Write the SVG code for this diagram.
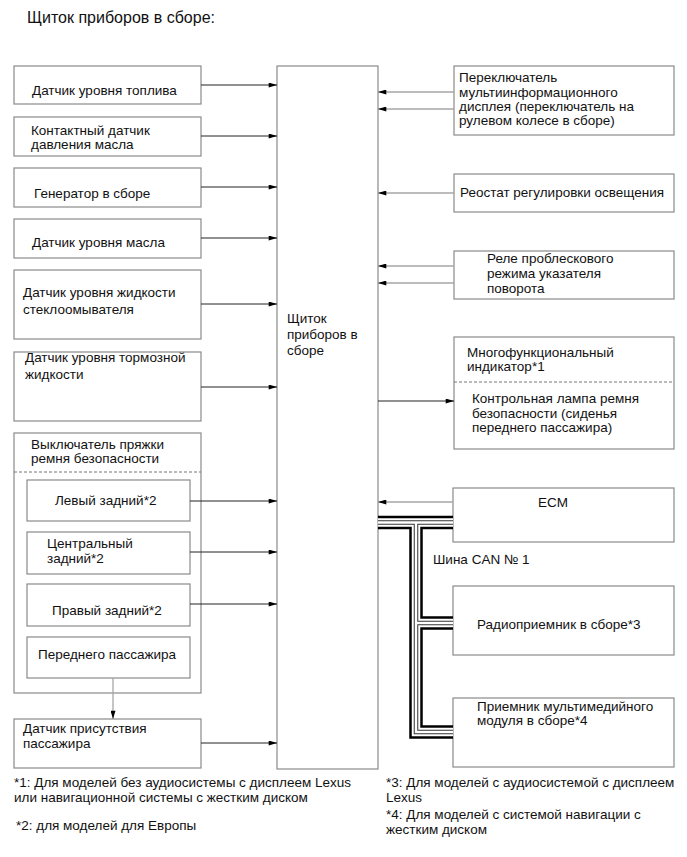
<svg xmlns="http://www.w3.org/2000/svg" width="687" height="857" viewBox="0 0 687 857">
<defs>
<style>
text{font-family:"Liberation Sans",Arial,sans-serif;font-size:13.5px;fill:#111}
.title{font-size:16px}
.box{fill:#fff;stroke:#8a8a8a;stroke-width:1.2}
.dash{stroke:#777;stroke-width:1;stroke-dasharray:3 2;fill:none}
.lin{stroke:#222;stroke-width:1;fill:none}
.rin{stroke:#a6a6a6;stroke-width:1.3;fill:none}
</style>
<marker id="ah" viewBox="0 0 10 6" refX="10" refY="3" markerWidth="10" markerHeight="5" markerUnits="userSpaceOnUse" orient="auto">
<path d="M0,0 L10,3 L0,6 z" fill="#000"/>
</marker>
</defs>
<rect width="687" height="857" fill="#fff"/>
<text class="title" x="27" y="23">Щиток приборов в сборе:</text>

<g id="main"><rect class="box" x="277" y="66" width="101" height="703"/>
<text x="287" y="323">Щиток</text><text x="287" y="339">приборов в</text><text x="287" y="355">сборе</text></g>

<g id="fuel"><rect class="box" x="14" y="66" width="187" height="38"/><text x="32" y="95">Датчик уровня топлива</text></g>
<g id="oilpress"><rect class="box" x="14" y="117" width="187" height="39"/><text x="31" y="135">Контактный датчик</text><text x="31" y="149">давления масла</text></g>
<g id="gen"><rect class="box" x="14" y="168" width="187" height="39"/><text x="34" y="198">Генератор в сборе</text></g>
<g id="oillevel"><rect class="box" x="14" y="219" width="187" height="39"/><text x="32" y="247">Датчик уровня масла</text></g>
<g id="washer"><rect class="box" x="14" y="270" width="187" height="69"/><text x="23" y="297">Датчик уровня жидкости</text><text x="23" y="314">стеклоомывателя</text></g>
<g id="brake"><rect class="box" x="14" y="352" width="187" height="69"/><text x="25" y="362">Датчик уровня тормозной</text><text x="25" y="379">жидкости</text></g>
<g id="buckle"><rect class="box" x="14" y="433" width="187" height="260"/><text x="31" y="449">Выключатель пряжки</text><text x="31" y="463">ремня безопасности</text>
<line class="dash" x1="14" y1="472" x2="201" y2="472"/></g>
<g id="lr"><rect class="box" x="27" y="480" width="163" height="41"/><text x="55" y="505">Левый задний*2</text></g>
<g id="cr"><rect class="box" x="27" y="532" width="163" height="42"/><text x="47" y="548">Центральный</text><text x="47" y="563">задний*2</text></g>
<g id="rr"><rect class="box" x="27" y="584" width="163" height="42"/><text x="52" y="615">Правый задний*2</text></g>
<g id="fp"><rect class="box" x="27" y="637" width="163" height="41"/><text x="38" y="659">Переднего пассажира</text></g>
<g id="occ"><rect class="box" x="14" y="719" width="187" height="49"/><text x="23" y="733">Датчик присутствия</text><text x="23" y="748">пассажира</text></g>

<g id="mis"><rect class="box" x="454" y="66" width="220" height="69"/><text x="459" y="82">Переключатель</text><text x="459" y="97">мультиинформационного</text><text x="459" y="111">дисплея (переключатель на</text><text x="459" y="125">рулевом колесе в сборе)</text></g>
<g id="rheo"><rect class="box" x="454" y="174" width="220" height="38"/><text x="460" y="197">Реостат регулировки освещения</text></g>
<g id="flash"><rect class="box" x="454" y="251" width="220" height="48"/><text x="487" y="263">Реле проблескового</text><text x="487" y="278">режима указателя</text><text x="487" y="293">поворота</text></g>
<g id="multi"><rect class="box" x="454" y="337" width="220" height="112"/><text x="467" y="357">Многофункциональный</text><text x="467" y="371">индикатор*1</text>
<line class="dash" x1="454" y1="382" x2="674" y2="382"/>
<text x="472" y="403">Контрольная лампа ремня</text><text x="472" y="418">безопасности (сиденья</text><text x="472" y="432">переднего пассажира)</text></g>
<g id="ecm"><rect class="box" x="453" y="488" width="221" height="54"/><text x="538" y="507">ECM</text></g>
<g id="radio"><rect class="box" x="453" y="586" width="221" height="69"/><text x="477" y="629">Радиоприемник в сборе*3</text></g>
<g id="mm"><rect class="box" x="453" y="698" width="221" height="69"/><text x="477" y="711">Приемник мультимедийного</text><text x="477" y="725">модуля в сборе*4</text></g>

<g id="connectors">
<line class="lin" x1="201" y1="85" x2="277" y2="85" marker-end="url(#ah)"/>
<line class="lin" x1="201" y1="136" x2="277" y2="136" marker-end="url(#ah)"/>
<line class="lin" x1="201" y1="187" x2="277" y2="187" marker-end="url(#ah)"/>
<line class="lin" x1="201" y1="238" x2="277" y2="238" marker-end="url(#ah)"/>
<line class="lin" x1="201" y1="304" x2="277" y2="304" marker-end="url(#ah)"/>
<line class="lin" x1="201" y1="387" x2="277" y2="387" marker-end="url(#ah)"/>
<line class="lin" x1="190" y1="501" x2="277" y2="501" marker-end="url(#ah)"/>
<line class="lin" x1="190" y1="552" x2="277" y2="552" marker-end="url(#ah)"/>
<line class="lin" x1="190" y1="604" x2="277" y2="604" marker-end="url(#ah)"/>
<line class="lin" x1="201" y1="743" x2="277" y2="743" marker-end="url(#ah)"/>
<line class="rin" x1="113" y1="678" x2="113" y2="719" marker-end="url(#ah)"/>
<line class="rin" x1="454" y1="92" x2="378" y2="92" marker-end="url(#ah)"/>
<line class="rin" x1="454" y1="109" x2="378" y2="109" marker-end="url(#ah)"/>
<line class="rin" x1="454" y1="193" x2="378" y2="193" marker-end="url(#ah)"/>
<line class="rin" x1="454" y1="266" x2="378" y2="266" marker-end="url(#ah)"/>
<line class="rin" x1="454" y1="283" x2="378" y2="283" marker-end="url(#ah)"/>
<line class="lin" x1="378" y1="401" x2="454" y2="401" marker-end="url(#ah)"/>
<line class="rin" x1="453" y1="502" x2="378" y2="502" marker-end="url(#ah)"/>
<g id="canbus" fill="none" stroke-linejoin="miter">
<path d="M378,522.5 H453 M416,522.5 V732 H453 M416,623 H453" stroke="#000" stroke-width="13.5"/>
<path d="M378,522.5 H453 M416,522.5 V732 H453 M416,623 H453" stroke="#fff" stroke-width="8.5"/>
<path d="M378,522.5 H453 M416,522.5 V732 H453 M416,623 H453" stroke="#333" stroke-width="4.5"/>
<path d="M378,522.5 H453 M416,522.5 V732 H453 M416,623 H453" stroke="#fff" stroke-width="2.5"/>
</g>
</g>
<text x="433" y="564">Шина CAN № 1</text>

<text x="14" y="787">*1: Для моделей без аудиосистемы с дисплеем Lexus</text>
<text x="14" y="802">или навигационной системы с жестким диском</text>
<text x="16" y="830">*2: для моделей для Европы</text>
<text x="386" y="787">*3: Для моделей с аудиосистемой с дисплеем</text>
<text x="386" y="802">Lexus</text>
<text x="386" y="819">*4: Для моделей с системой навигации с</text>
<text x="386" y="834">жестким диском</text>
</svg>
